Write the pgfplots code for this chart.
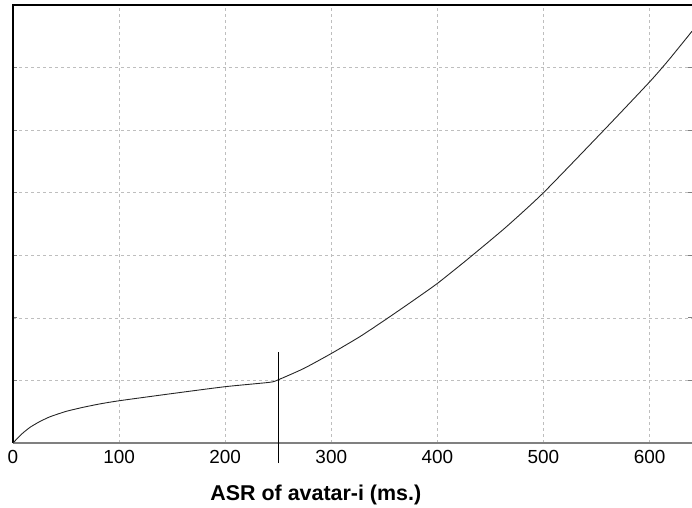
\documentclass[border=0pt]{standalone}
\usepackage{fontspec}
\setmainfont{Liberation Sans}
\usepackage{pgfplots}
\pgfplotsset{compat=1.18}

\definecolor{gridgray}{RGB}{190,190,190}
\definecolor{axgray}{RGB}{128,128,128}

\begin{document}
\begin{tikzpicture}
\begin{axis}[
    scale only axis,
    width=679bp, height=438bp,
    xmin=0, xmax=640,
    ymin=0, ymax=7,
    xtick={0,100,...,600},
    ytick={1,2,...,6},
    yticklabels={},
    grid=major,
    grid style={gridgray, dash pattern=on 3bp off 3bp, line width=0.6bp},
    axis line style={draw=none},
    xtick style={draw=none},
    ytick style={axgray, line width=1.2bp},
    tick align=inside,
    major tick length=4bp,
    clip=false,
    /pgf/number format/assume math mode=true,
    xticklabel style={font=\fontsize{19}{22}\selectfont, yshift=-4bp},
    xlabel={ASR of avatar-i (ms.)},
    every axis x label/.style={at={(rel axis cs:0.446,0)}, anchor=base, yshift=-58bp,
        font=\fontsize{21.5}{24}\selectfont\bfseries},
]
% frame: black left and top, gray bottom
\draw[black, line width=1.3bp] (rel axis cs:0,0) -- (rel axis cs:0,1) -- (rel axis cs:1,1);
\draw[axgray, line width=2bp] (rel axis cs:0,0) -- (rel axis cs:1,0);

\addplot[black!85, line width=0.9bp, smooth, tension=0.35] coordinates {
    (0,0) (8,0.14) (16,0.25) (25,0.34) (35,0.42) (50,0.505) (66,0.57) (82,0.625)
    (100,0.675) (150,0.79) (200,0.90) (242,0.97) (250,1.01) (274,1.19)
    (300,1.43) (327,1.70) (351,1.97) (375,2.25) (400,2.55) (428,2.93)
    (464,3.44) (500,4.0) (557,5.0) (600,5.77) (618,6.12) (640,6.58)
};
\addplot[black, line width=1.1bp] coordinates {(250,-0.32) (250,1.46)};
\end{axis}
\pgfresetboundingbox
\path ([shift={(-13bp,-65bp)}]current axis.south west) rectangle ([shift={(0bp,5bp)}]current axis.north east);
\end{tikzpicture}
\end{document}
